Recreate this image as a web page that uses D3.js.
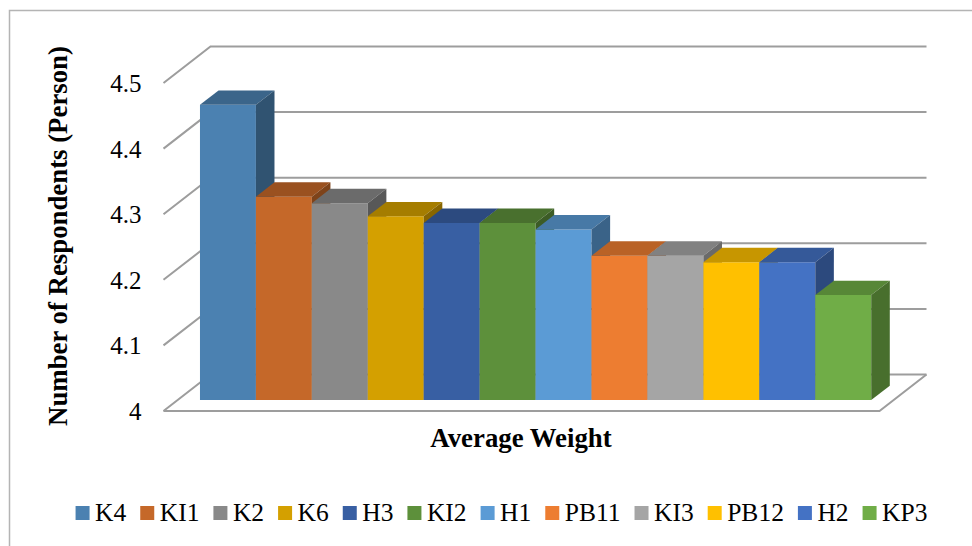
<!DOCTYPE html>
<html>
<head>
<meta charset="utf-8">
<script src="https://cdn.jsdelivr.net/npm/d3@7"></script>
</head>
<body style="margin:0; background:#fff">
<svg id="chart" width="972" height="546"></svg>
<script>
const categories = ["K4", "KI1", "K2", "K6", "H3", "KI2", "H1", "PB11", "KI3", "PB12", "H2", "KP3"];
const values = [4.45, 4.31, 4.30, 4.28, 4.27, 4.27, 4.26, 4.22, 4.22, 4.21, 4.21, 4.16];
const colors = ["#4b81b1", "#c56829", "#898989", "#d4a000", "#385fa3", "#5d903b",
                "#5b9bd5", "#ed7d31", "#a5a5a5", "#ffc000", "#4472c4", "#70ad47"];
const yTicks = [4, 4.1, 4.2, 4.3, 4.4, 4.5];
const yTickLabels = ["4", "4.1", "4.2", "4.3", "4.4", "4.5"];

const FONT = "'Liberation Serif', 'Times New Roman', Tinos, serif";

const svg = d3.select("#chart")
    .style("display", "block");

// serif text, forced inline so nothing outside can swap it
const serif = sel => sel
    .attr("font-family", FONT)
    .style("font-family", FONT, "important");

// depth offset of the 3d box (front plane -> back wall)
const DX = 47, DY = -36.5;
const barDepth0 = 0.3, barDepth1 = 0.695;

const yBack = d3.scaleLinear().domain([4, 4.5]).range([374.5, 46.5]);
const yFront = v => yBack(v) - DY;

const x = d3.scaleBand()
    .domain(categories)
    .range([163.5, 879.5])
    .paddingInner(0)
    .paddingOuter(0.4);

const proj = (px, v, t) => [px + t * DX, yFront(v) + t * DY];

const shade = (c, k) => {
    const r = d3.rgb(c);
    return d3.rgb(r.r * k, r.g * k, r.b * k).formatHex();
};

// outer chart border
svg.append("rect")
    .attr("x", 9.5).attr("y", 10.5)
    .attr("width", 980).attr("height", 560)
    .attr("fill", "none")
    .attr("stroke", "#b4b4b4")
    .attr("stroke-width", 1.5);

// gridlines: back wall + left diagonal
const grid = svg.append("g")
    .attr("fill", "none")
    .attr("stroke", "#9d9d9d")
    .attr("stroke-width", 2);

const [xL, xR] = x.range();

grid.selectAll("path.grid")
    .data(yTicks)
    .join("path")
    .attr("class", "grid")
    .attr("d", d => {
        const a = proj(xL, d, 0), b = proj(xL, d, 1), c = proj(xR, d, 1);
        return d3.line()([a, b, c]);
    });

// floor front + right edge
grid.append("path")
    .attr("d", d3.line()([proj(xL, 4, 0), proj(xR, 4, 0), proj(xR, 4, 1)]));

// y tick labels
svg.selectAll("text.tick")
    .data(yTicks)
    .join("text")
    .attr("class", "tick")
    .call(serif)
    .attr("x", xL - 22)
    .attr("y", d => yFront(d) + 9)
    .attr("text-anchor", "end")
    .attr("font-size", 25)
    .attr("fill", "#000")
    .text((d, i) => yTickLabels[i]);

// bars, left to right so later ones cover earlier side faces
const bars = svg.append("g")
    .selectAll("g")
    .data(categories.map((c, i) => ({ name: c, value: values[i], color: colors[i] })))
    .join("g");

bars.append("path")
    .attr("fill", d => d.color)
    .attr("d", d => {
        const x0 = x(d.name), x1 = x0 + x.bandwidth();
        return d3.line()([
            proj(x0, 4, barDepth0), proj(x1, 4, barDepth0),
            proj(x1, d.value, barDepth0), proj(x0, d.value, barDepth0)
        ]) + "Z";
    });

bars.append("path")
    .attr("fill", d => shade(d.color, 0.78))
    .attr("d", d => {
        const x0 = x(d.name), x1 = x0 + x.bandwidth();
        return d3.line()([
            proj(x0, d.value, barDepth0), proj(x1, d.value, barDepth0),
            proj(x1, d.value, barDepth1), proj(x0, d.value, barDepth1)
        ]) + "Z";
    });

bars.append("path")
    .attr("fill", d => shade(d.color, 0.64))
    .attr("d", d => {
        const x1 = x(d.name) + x.bandwidth();
        return d3.line()([
            proj(x1, 4, barDepth0), proj(x1, d.value, barDepth0),
            proj(x1, d.value, barDepth1), proj(x1, 4, barDepth1)
        ]) + "Z";
    });

// axis titles
svg.append("text")
    .call(serif)
    .attr("transform", "translate(67,236) rotate(-90)")
    .attr("text-anchor", "middle")
    .attr("font-size", 26.8)
    .attr("font-weight", "bold")
    .text("Number of Respondents (Person)");

svg.append("text")
    .call(serif)
    .attr("x", 521)
    .attr("y", 446.5)
    .attr("text-anchor", "middle")
    .attr("font-size", 26.8)
    .attr("font-weight", "bold")
    .text("Average Weight");

// legend
const legendY = 521;
const legendSwatches = svg.selectAll("rect.swatch")
    .data(categories)
    .join("rect")
    .attr("class", "swatch")
    .attr("width", 14).attr("height", 14)
    .attr("y", legendY - 15)
    .attr("fill", (d, i) => colors[i]);

const legendLabels = svg.selectAll("text.legend")
    .data(categories)
    .join("text")
    .attr("class", "legend")
    .call(serif)
    .attr("y", legendY)
    .attr("font-size", 25.5)
    .text(d => d);

const widths = legendLabels.nodes().map(n => n.getComputedTextLength());
const total = d3.sum(widths) + categories.length * 19.5 + (categories.length - 1) * 14;
let cursor = 501.5 - total / 2;
const starts = widths.map(w => {
    const s = cursor;
    cursor += 19.5 + w + 14;
    return s;
});
legendSwatches.attr("x", (d, i) => starts[i]);
legendLabels.attr("x", (d, i) => starts[i] + 19.5);
</script>
</body>
</html>
